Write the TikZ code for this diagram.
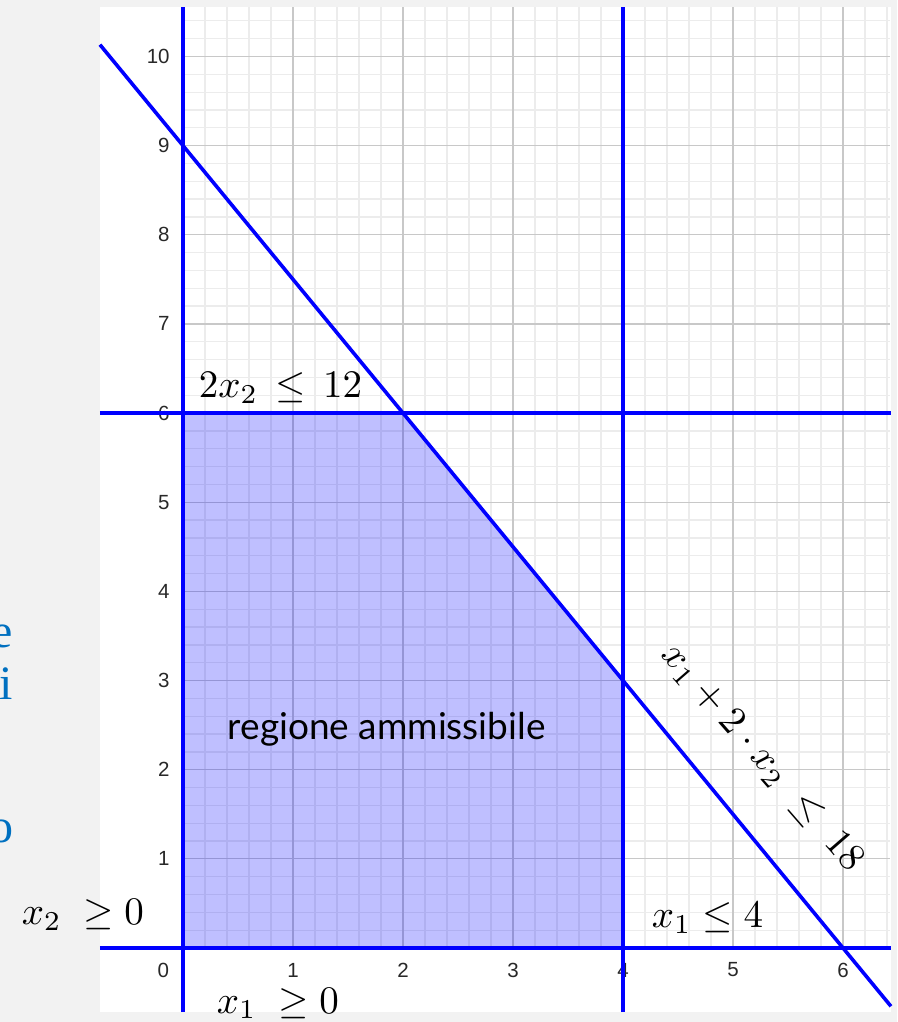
\documentclass[tikz,border=0pt]{standalone}
\usepackage{fontspec}
\setsansfont{Liberation Sans}
\newfontfamily\latofont{Lato}
\newfontfamily\bluserif{Liberation Serif}
\definecolor{bggray}{RGB}{242,242,242}
\definecolor{minorg}{RGB}{236,236,236}
\definecolor{majorg}{RGB}{200,200,200}
\definecolor{slideblue}{RGB}{0,112,192}
\definecolor{ticktext}{RGB}{40,40,40}
\tikzset{
  minorgrid/.style={draw=minorg, line width=1.3pt},
  majorgrid/.style={draw=majorg, line width=1.2pt},
  bline/.style={draw={rgb,255:red,0;green,0;blue,255}, line width=3.6pt},
  region/.style={fill={rgb,255:red,0;green,0;blue,255}, fill opacity=0.25},
  ticklab/.style={font=\sffamily, text=ticktext, scale=2.05, inner sep=0pt},
  mathlab/.style={scale=3.9, inner sep=0pt, text=black},
  bluetext/.style={font=\bluserif, text=slideblue, scale=4.8, inner sep=0pt},
}
\begin{document}
\begin{tikzpicture}[x=1pt,y=1pt]
\useasboundingbox (0,0) rectangle (897,1022);
\fill[bggray] (0,0) rectangle (897,1022);
\fill[white] (100,10) rectangle (891,1015);
% left partial slide text
\node[bluetext, anchor=base east] (le) at (14,374) {e};
\node[bluetext, anchor=base east] (li) at (14,322) {ni};
\node[bluetext, anchor=base east] (lo) at (14,179) {o};
\begin{scope}[shift={(183pt,74pt)}, x=110pt, y=89.15pt]
  \draw[minorgrid] (0,0) grid[step=0.2] (6.43,10.555);
  \draw[majorgrid] (0,0) grid[step=1] (6.43,10.555);
  \fill[region] (0,0) -- (0,6) -- (2,6) -- (4,3) -- (4,0) -- cycle;
  \foreach \k in {1,...,10}
    \node[ticklab, anchor=east] (yt\k) at (-0.118,\k) {\k};
  \foreach \k in {1,...,6}
    \node[ticklab] (xt\k) at (\k,-0.247) {\k};
  \node[ticklab] (xt0) at (-0.18,-0.247) {0};
  \draw[bline] (0,-0.72) -- (0,10.555);
  \draw[bline] (4,-0.72) -- (4,10.555);
  \draw[bline] (-0.755,0) -- (6.436,0);
  \draw[bline] (-0.755,6) -- (6.436,6);
  \draw[bline] (-0.755,10.1325) -- (6.436,-0.654);
\end{scope}
\node[mathlab, anchor=base west] (c1) at (21,97) {$x_2\;\geq 0$};
\node[mathlab, anchor=base west] (c2) at (216,9) {$x_1\;\geq 0$};
\node[mathlab, anchor=base west] (c3) at (198,624) {$2x_2 \,\leq\, 12$};
\node[mathlab, anchor=base west] (c4) at (651,94) {$x_1 \leq 4$};
\node[mathlab, rotate=-49] (c5) at (762,264) {$x_1 + 2\cdot x_2 \;\leq\; 18$};
\node[font=\latofont, scale=3.7, inner sep=0pt, anchor=base west] (reg) at (227,282) {regione ammissibile};
\end{tikzpicture}
\end{document}
